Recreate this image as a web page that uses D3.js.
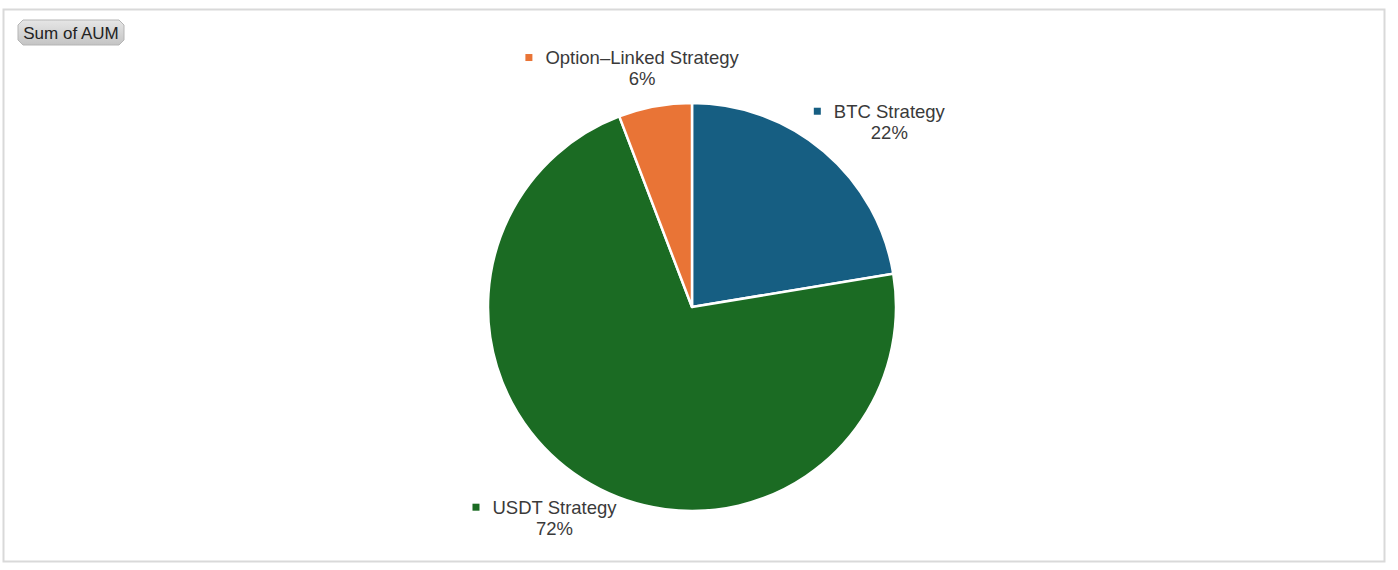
<!DOCTYPE html>
<html>
<head>
<meta charset="utf-8">
<script src="https://cdn.jsdelivr.net/npm/d3@7"></script>
<style>
  body { margin: 0; background: #fff; }
  svg { display: block; font-family: "Liberation Sans", Arial, Helvetica, sans-serif; }
</style>
</head>
<body>
<svg id="chart" width="1398" height="570"></svg>
<script>
const categories = ['BTC Strategy', 'USDT Strategy', 'Option\u2013Linked Strategy'];
const values = [22.4, 71.8, 5.8];
const percentLabels = ['22%', '72%', '6%'];
const colors = ['#165e82', '#1b6b23', '#e97436'];

const width = 1398, height = 570;
const cx = 692, cy = 307, radius = 204;

const svg = d3.select('#chart');

// outer frame
svg.append('rect')
  .attr('x', 3.5).attr('y', 9.5)
  .attr('width', 1381).attr('height', 552)
  .attr('fill', 'none')
  .attr('stroke', '#d9d9d9')
  .attr('stroke-width', 2);

// "Sum of AUM" field button
const defs = svg.append('defs');
const grad = defs.append('linearGradient')
  .attr('id', 'btnGrad').attr('x1', 0).attr('y1', 0).attr('x2', 0).attr('y2', 1);
grad.append('stop').attr('offset', '0%').attr('stop-color', '#e6e6e6');
grad.append('stop').attr('offset', '100%').attr('stop-color', '#c4c4c4');

const bx = 18, by = 20, bw = 106, bh = 25, c = 5;
svg.append('path')
  .attr('d', `M${bx + c},${by} L${bx + bw - c},${by} L${bx + bw},${by + c} L${bx + bw},${by + bh - c}
    L${bx + bw - c},${by + bh} L${bx + c},${by + bh} L${bx},${by + bh - c} L${bx},${by + c} Z`)
  .attr('fill', 'url(#btnGrad)')
  .attr('stroke', '#b5b5b5')
  .attr('stroke-width', 1);

svg.append('text')
  .attr('x', bx + bw / 2)
  .attr('y', by + 18.5)
  .attr('text-anchor', 'middle')
  .attr('font-size', 17)
  .attr('fill', '#222')
  .text('Sum of AUM');

// pie
const data = categories.map((name, i) => ({ name, value: values[i], pct: percentLabels[i], color: colors[i] }));

const pie = d3.pie().sort(null).value(d => d.value);
const arc = d3.arc().innerRadius(0).outerRadius(radius);
const arcs = pie(data);

const g = svg.append('g').attr('transform', `translate(${cx},${cy})`);

g.selectAll('path.slice')
  .data(arcs)
  .enter().append('path')
  .attr('class', 'slice')
  .attr('d', arc)
  .attr('fill', d => d.data.color)
  .attr('stroke', '#fff')
  .attr('stroke-width', 2.5)
  .attr('stroke-linejoin', 'round');

// labels
const labelR = radius + 20;
const fontSize = 18.5;
const lineH = 21;
const markerSize = 7;
const markerGap = 13;

arcs.forEach(d => {
  const a = (d.startAngle + d.endAngle) / 2;
  const px = Math.sin(a) * labelR;
  const py = -Math.cos(a) * labelR;

  const lg = g.append('g');
  const nameText = lg.append('text')
    .attr('font-size', fontSize)
    .attr('fill', '#3a3a3a')
    .text(d.data.name);
  const tw = nameText.node().getComputedTextLength();

  const bw2 = markerSize + markerGap + tw;
  const bh2 = lineH * 2 - 4;
  // block center offset away from pie
  const bcx = px + Math.sin(a) * bw2 / 2;
  const bcy = py - Math.cos(a) * bh2 / 2;
  const left = bcx - bw2 / 2;
  const top = bcy - bh2 / 2;

  lg.append('rect')
    .attr('x', left)
    .attr('y', top + 5)
    .attr('width', markerSize)
    .attr('height', markerSize)
    .attr('fill', d.data.color);

  const textX = left + markerSize + markerGap;
  nameText
    .attr('x', textX)
    .attr('y', top + 15);

  lg.append('text')
    .attr('x', textX + tw / 2)
    .attr('y', top + 15 + lineH)
    .attr('text-anchor', 'middle')
    .attr('font-size', fontSize)
    .attr('fill', '#3a3a3a')
    .text(d.data.pct);
});
</script>
</body>
</html>
